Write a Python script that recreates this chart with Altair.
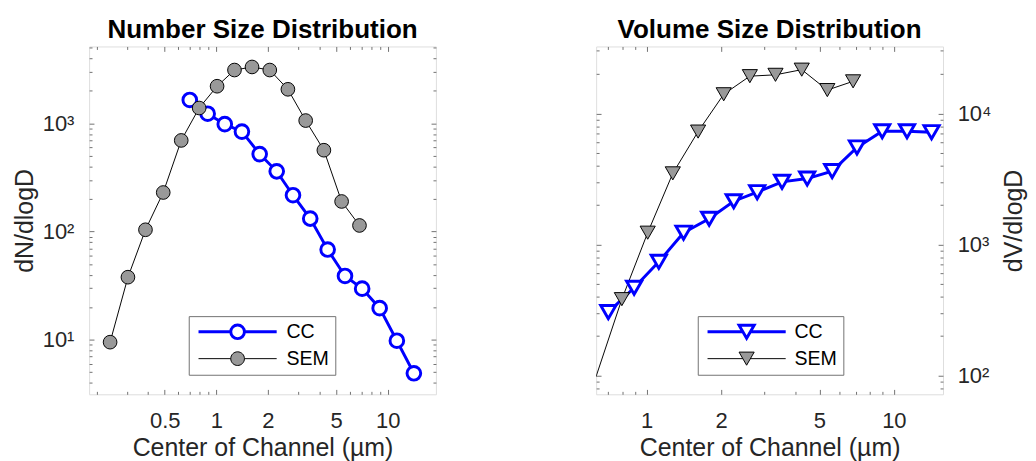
import altair as alt
import pandas as pd

FONT = "Liberation Sans"
AXC = "#707070"
TXT = "#262626"
BLUE = "#0000ff"
GRAY = "#999999"

# ---------------- data ----------------
cc_d = [0.70, 0.89, 1.12, 1.41, 1.79, 2.25, 2.80, 3.53, 4.46, 5.63, 7.09, 8.97, 11.3, 14.2]
cc_dn = [1650, 1231, 986, 841, 521, 361, 217, 132, 68.3, 38.9, 29.7, 19.6, 9.8, 4.9]
cc_dv = [305, 468, 738, 1231, 1573, 2138, 2506, 3006, 3185, 3630, 5500, 7310, 7310, 7190]

sem_d = [0.24, 0.305, 0.386, 0.49, 0.624, 0.794, 1.01, 1.276, 1.615, 2.05, 2.615, 3.32, 4.24, 5.38, 6.84]
sem_dn = [9.5, 37.9, 104, 230, 697, 1390, 2210, 3120, 3330, 3120, 2070, 1064, 566, 190, 114]
sem_dv_d = [0.624, 0.794, 1.01, 1.276, 1.615, 2.05, 2.615, 3.32, 4.24, 5.38, 6.84]
sem_dv = [98, 383, 1231, 3490, 7270, 14000, 19240, 19700, 21570, 15070, 17570]

series_names = ["CC", "SEM"]

# axis tick values
num_x_major = [0.5, 1, 2, 5, 10]
num_x_minor = [0.2, 0.3, 0.4, 0.6, 0.7, 0.8, 0.9, 3, 4, 6, 7, 8, 9]
num_y_major = [10, 100, 1000]
num_y_minor = [4, 5, 6, 7, 8, 9, 20, 30, 40, 50, 60, 70, 80, 90,
               200, 300, 400, 500, 600, 700, 800, 900, 2000, 3000, 4000, 5000]
vol_x_major = [1, 2, 5, 10]
vol_x_minor = [0.7, 0.8, 0.9, 3, 4, 6, 7, 8, 9]
vol_y_major = [100, 1000, 10000]
vol_y_minor = [80, 90, 200, 300, 400, 500, 600, 700, 800, 900,
               2000, 3000, 4000, 5000, 6000, 7000, 8000, 9000, 20000, 30000]

num_xdom = [0.181, 19.1]
num_ydom = [3.13, 5150]
vol_xdom = [0.625, 15.8]
vol_ydom = [72, 32400]

SUP = "datum.value == 10 ? '10\u00b9' : datum.value == 100 ? '10\u00b2' : datum.value == 1000 ? '10\u00b3' : '10\u2074'"

W, H = 355, 356
MAJ, MIN = 5, 3


def make_df(cx, cy, sx, sy):
    rows = [{"d": a, "v": b, "s": "CC"} for a, b in zip(cx, cy)]
    rows += [{"d": a, "v": b, "s": "SEM"} for a, b in zip(sx, sy)]
    return pd.DataFrame(rows)


# inner ticks on an edge: drawn by the axis of the opposite side shifted across the plot
OPP = {"bottom": ("top", H), "top": ("bottom", H), "left": ("right", W), "right": ("left", W)}


def tick_axis(edge, values, L):
    orient, dim = OPP[edge]
    return alt.Axis(orient=orient, values=values, tickSize=L, offset=-dim, domain=False,
                    grid=False, labels=False, ticks=True, tickColor=AXC, tickWidth=1,
                    minExtent=0, title=None)


def panel(df, xdom, ydom, xmaj, xmin, ymaj, ymin, shape, msize, sym_path,
          title, ytitle, yorient, legx, legy, sym_off, lab_off):
    xs = alt.Scale(type="log", domain=xdom, nice=False)
    ys = alt.Scale(type="log", domain=ydom, nice=False)
    base = alt.Chart(df)
    inside = base.transform_filter((alt.datum.d >= xdom[0]) & (alt.datum.d <= xdom[1]))

    def axl(xaxis=None, yaxis=None):
        return inside.mark_point(opacity=0, size=1).encode(
            x=alt.X("d:Q", scale=xs, axis=xaxis),
            y=alt.Y("v:Q", scale=ys, axis=yaxis),
        )

    xlab = alt.Axis(orient="bottom", values=xmaj, ticks=False, domain=False, grid=False,
                    labels=True, format="~g", labelFont=FONT, labelFontSize=22.5,
                    labelColor=TXT, labelPadding=16, labelFlush=False, labelOverlap=False,
                    title="Center of Channel (\u00b5m)", titleFont=FONT, titleFontSize=25.5,
                    titleFontWeight="normal", titleColor=TXT, titlePadding=4, minExtent=0)
    yargs = dict(orient=yorient, values=ymaj, ticks=False, domain=False, grid=False,
                 labels=True, labelExpr=SUP, labelFont=FONT, labelFontSize=22.5,
                 labelColor=TXT, labelPadding=15.5 if yorient == "left" else 14.5,
                 labelFlush=False, labelOverlap=False, labelBaseline="middle",
                 title=ytitle, titleFont=FONT, titleFontSize=25.5, titleFontWeight="normal",
                 titleColor=TXT, titlePadding=5 if yorient == "left" else 11, minExtent=0)
    if yorient == "right":
        yargs.update(titleAngle=270, titleBaseline="top")
    ylab = alt.Axis(**yargs)

    layers = [axl(xaxis=xlab), axl(yaxis=ylab)]
    for edge in ("bottom", "top"):
        layers.append(axl(xaxis=tick_axis(edge, xmaj, MAJ)))
        layers.append(axl(xaxis=tick_axis(edge, xmin, MIN)))
    for edge in ("left", "right"):
        layers.append(axl(yaxis=tick_axis(edge, ymaj, MAJ)))
        layers.append(axl(yaxis=tick_axis(edge, ymin, MIN)))

    enc = dict(x=alt.X("d:Q", scale=xs, axis=None), y=alt.Y("v:Q", scale=ys, axis=None))
    line_cc = base.transform_filter(alt.datum.s == "CC").mark_line(
        clip=True, color=BLUE, strokeWidth=3).encode(**enc)
    line_sem = base.transform_filter(alt.datum.s == "SEM").mark_line(
        clip=True, color="black", strokeWidth=1).encode(**enc)
    leg = alt.Legend(title=None, orient="none", legendX=legx, legendY=legy,
                     symbolType=sym_path, symbolSize=msize, labelFont=FONT,
                     labelFontSize=20, labelColor="black", padding=6,
                     strokeColor=AXC, fillColor="white", rowPadding=4.5,
                     symbolOffset=sym_off, labelOffset=lab_off, labelBaseline="middle")
    pts = inside.mark_point(filled=True, shape=shape, size=msize, opacity=1).encode(
        **enc,
        fill=alt.Fill("s:N", scale=alt.Scale(domain=series_names, range=["white", GRAY]), legend=leg),
        stroke=alt.Stroke("s:N", scale=alt.Scale(domain=series_names, range=[BLUE, "black"]), legend=leg),
        strokeWidth=alt.StrokeWidth("s:N", scale=alt.Scale(type="point", domain=series_names, range=[3, 1]), legend=leg),
    )
    layers += [line_cc, line_sem, pts]
    return alt.layer(*layers).resolve_axis(x="independent", y="independent").properties(
        width=W, height=H,
        title=alt.TitleParams(title, font=FONT, fontSize=26.6, fontWeight="bold", color="black",
                              offset=2.5, anchor="middle", frame="group"),
    )


circle_path = ("M-5.714,0H-1M1,0H5.714"
               "M1,0A1,1,0,1,1,-1,0A1,1,0,1,1,1,0Z")
tri_path = ("M-5.164,0H-0.5M0.5,0H5.164"
            "M0,0.866L-1,-0.866L1,-0.866Z")

num_df = make_df(cc_d, cc_dn, sem_d, sem_dn)
vol_df = make_df(cc_d, cc_dv, sem_dv_d, sem_dv)

left = panel(num_df, num_xdom, num_ydom, num_x_major, num_x_minor, num_y_major, num_y_minor,
             "circle", 196, circle_path, "Number Size Distribution", "dN/dlogD", "left",
             102, 276, 34, 40)
right = panel(vol_df, vol_xdom, vol_ydom, vol_x_major, vol_x_minor, vol_y_major, vol_y_minor,
              "triangle-down", 240, tri_path, "Volume Size Distribution", "dV/dlogD", "right",
              104, 276, 34, 39)

chart = alt.hconcat(left, right, spacing=161).resolve_scale(
    fill="independent", stroke="independent", strokeWidth="independent"
).resolve_legend(
    fill="independent", stroke="independent", strokeWidth="independent"
).properties(
    padding={"left": 4, "top": 3, "right": 0, "bottom": 0}
).configure_view(stroke=AXC, strokeWidth=1).configure(font=FONT)

chart.save("out.html", embed_options={"renderer": "svg", "actions": False})
